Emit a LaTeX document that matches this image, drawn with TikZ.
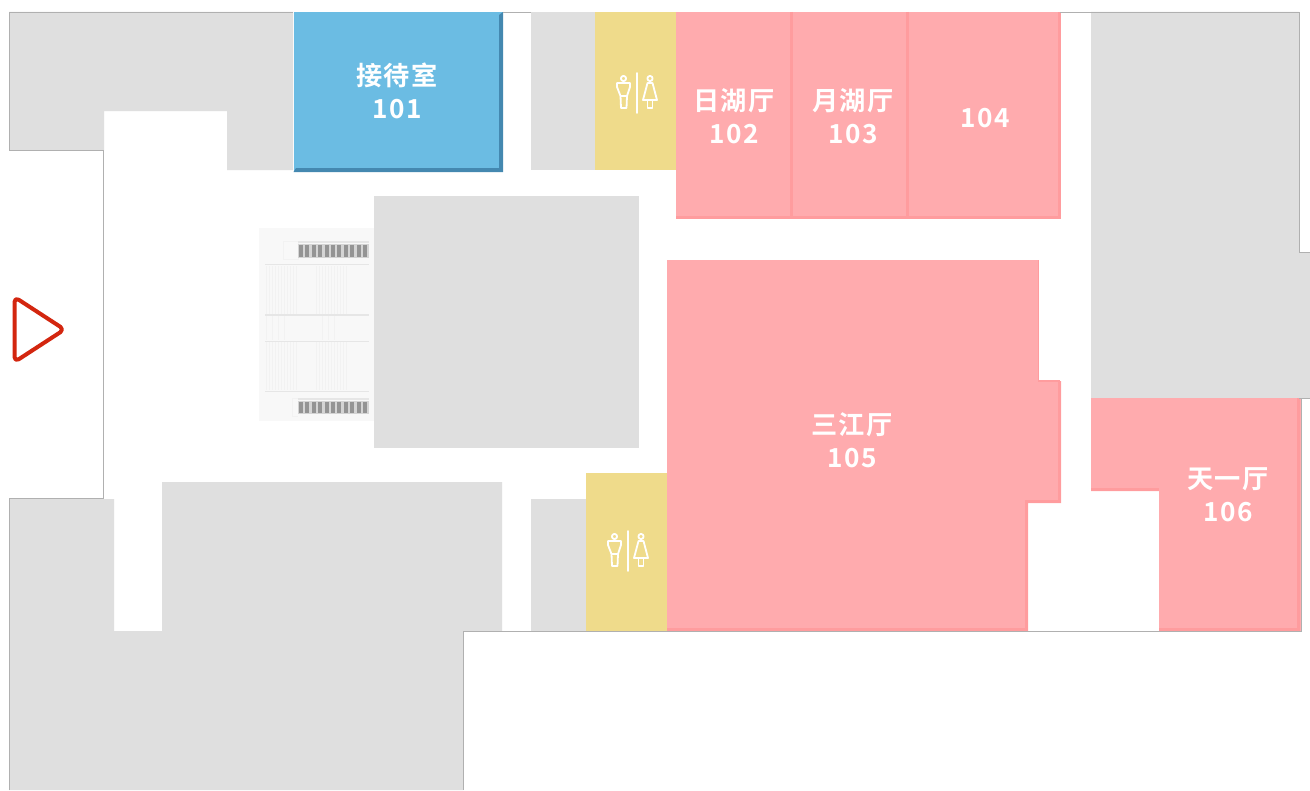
\documentclass[tikz,border=0pt]{standalone}
\usepackage{fontspec}
\newfontfamily\cjk[LetterSpace=5]{Noto Sans CJK SC Bold}
\definecolor{wallgray}{HTML}{DFDFDF}
\definecolor{outline}{HTML}{B0B0B0}
\definecolor{pinkroom}{HTML}{FFABAE}
\definecolor{pinkedge}{HTML}{FF9C9E}
\definecolor{blueroom}{HTML}{6BBCE3}
\definecolor{blueedge}{HTML}{4488B0}
\definecolor{wcyellow}{HTML}{EFDB8B}
\definecolor{arrowred}{HTML}{D3260F}
\definecolor{stairbg}{HTML}{F8F8F8}
\definecolor{stairline}{HTML}{E6E6E6}
\definecolor{stairfaint}{HTML}{F2F2F2}
\definecolor{treadgray}{HTML}{949494}
\definecolor{treadbg}{HTML}{D4D4D4}
\tikzset{
  x=1bp,y=-1bp,
  wall/.style={fill=wallgray,draw=none},
  outerline/.style={draw=outline,line width=0.7bp},
  pink/.style={fill=pinkroom,draw=none},
  pinkline/.style={draw=pinkedge,line width=3bp},
  label/.style={text=white,align=center,font=\cjk\fontsize{26.3}{33}\selectfont},
  wcicon/.style={draw=white,line width=1.8bp,line join=round,line cap=round},
  faint/.style={draw=stairfaint,line width=0.8bp},
  landing/.style={draw=stairline,line width=1.4bp},
  tread/.style={draw=treadgray,line width=4bp}
}
\newcommand{\wcpair}[2]{%
  \begin{scope}[shift={(#1,#2)}]
    % man
    \draw[wcicon] (-13.5,-14.5) circle (2.6);
    \draw[wcicon] (-20,-10) -- (-7,-10) -- (-7,-6) -- (-10,3) -- (-10.5,15) -- (-16,15) -- (-16.5,3) -- (-20,-6) -- cycle;
    \draw[wcicon] (-10,3) -- (-16.5,3);
    % divider
    \draw[wcicon] (0,-20) -- (0,20);
    % woman
    \draw[wcicon] (13,-14.5) circle (2.6);
    \draw[wcicon] (10.5,-10) -- (15.5,-10) -- (20,7) -- (6,7) -- cycle;
    \draw[wcicon] (10.5,7) -- (10.5,15) -- (15.5,15) -- (15.5,7);
  \end{scope}}
\begin{document}
\begin{tikzpicture}
\useasboundingbox (0,0) rectangle (1310,790);
\fill[white] (0,0) rectangle (1310,790);

% grey blocks
\fill[wall] (9,12) -- (293,12) -- (293,170) -- (227,170) -- (227,111) -- (104,111) -- (104,150) -- (9,150) -- cycle;
\fill[wall] (531,12) -- (595,12) -- (595,170) -- (531,170) -- cycle;
\fill[wall] (1091,12) -- (1299,12) -- (1299,252) -- (1310,252) -- (1310,398) -- (1091,398) -- cycle;
\fill[wall] (374,196) rectangle (639,448);
\fill[wall] (9,499) -- (114,499) -- (114,631) -- (162,631) -- (162,482) -- (502,482) -- (502,631) -- (463,631) -- (463,790) -- (9,790) -- cycle;
\fill[wall] (531,499) rectangle (586,631);

% yellow rooms
\fill[wcyellow] (595,12) rectangle (676,170);
\fill[wcyellow] (586,473) -- (667,473) -- (667,631) -- (586,631) -- cycle;

% pink rooms
\fill[pink] (676,12) rectangle (1061,219);
\draw[pinkline] (791.5,12) -- (791.5,217);
\draw[pinkline] (907.5,12) -- (907.5,217);
\draw[pinkline] (1059.5,12) -- (1059.5,217.5) -- (676,217.5);
\fill[pink] (667,260) -- (1038,260) -- (1038,381) -- (1061,381) -- (1061,503) -- (1028,503) -- (1028,631) -- (667,631) -- cycle;
\draw[pinkline,line width=1.4bp] (1038.5,260) -- (1038.5,381) -- (1060,381);
\draw[pinkline] (1059.5,381) -- (1059.5,501.5) -- (1026.5,501.5) -- (1026.5,629.5) -- (667,629.5);
\fill[pink] (1091,398) -- (1301,398) -- (1301,631) -- (1159,631) -- (1159,491) -- (1091,491) -- cycle;
\draw[pinkline] (1091,489.5) -- (1159,489.5);
\draw[pinkline] (1298.5,398) -- (1298.5,629.5) -- (1159,629.5);

% blue room
\fill[blueroom] (293.5,12) rectangle (503,172);
\fill[blueedge] (499,15) -- (503,12) -- (503,172) -- (293.5,172) -- (296,168) -- (499,168) -- cycle;

% outlines
\draw[outerline] (9,150) -- (9,12) -- (293,12);
\draw[outerline] (503,12) -- (531,12);
\draw[outerline] (1060,12) -- (1091,12);
\draw[outerline] (1091,12) -- (1299,12) -- (1299,252) -- (1310,252);
\draw[outerline] (1299,398) -- (1310,398);
\draw[outerline] (9,150) -- (103.5,150) -- (103.5,498) -- (9,498) -- (9,790);
\draw[outerline] (463,790) -- (463,631.5) -- (1301,631.5) -- (1301,398);

% stairs
\fill[stairbg] (259,228) rectangle (374,421);
\foreach \yy in {264.5,315,341.5,391.5} \draw[landing] (265,\yy) -- (369,\yy);
\foreach \xx in {266,269,272,275,278,281,284,287,290,293,296,316,319,322,325,328,331,334,337,340,343,346}{
  \draw[faint] (\xx,266) -- (\xx,314);
  \draw[faint] (\xx,342) -- (\xx,390);
}
\foreach \xx in {266,272,278,284,322,328,334}
  \draw[faint] (\xx,316) -- (\xx,340);
\draw[faint] (283,241) rectangle (298,259);
\draw[faint] (292,398) -- (298,398) (292,398) -- (292,416) -- (298,416);
\draw[stairline,line width=1.4bp] (298,242) -- (369,242);
\draw[stairline,line width=1.4bp] (298,399) -- (369,399);
\fill[treadbg] (298,244) rectangle (369,257.5);
\fill[treadbg] (298,401) rectangle (369,413.5);
\foreach \xx in {301,307.4,313.8,320.2,326.6,333,339.4,345.8,352.2,358.6,365}{
  \draw[tread] (\xx,244.5) -- (\xx,257);
  \draw[tread] (\xx,401.5) -- (\xx,413);
}

% entrance arrow
\draw[draw=arrowred,line width=4bp,line join=round,rounded corners=5bp]
  (14.5,297) -- (64.5,329.5) -- (14.5,362) -- cycle;

% WC icons
\wcpair{637}{93}
\wcpair{628}{551}

% labels
\node[label] (r101) at (397,91) {接待室\\101};
\node[label] (r102) at (734,116) {日湖厅\\102};
\node[label] (r103) at (853,116) {月湖厅\\103};
\node[label] (r104) at (985,118) {104};
\node[label] (r105) at (852,440.5) {三江厅\\105};
\node[label] (r106) at (1228,494.5) {天一厅\\106};
\end{tikzpicture}
\end{document}
